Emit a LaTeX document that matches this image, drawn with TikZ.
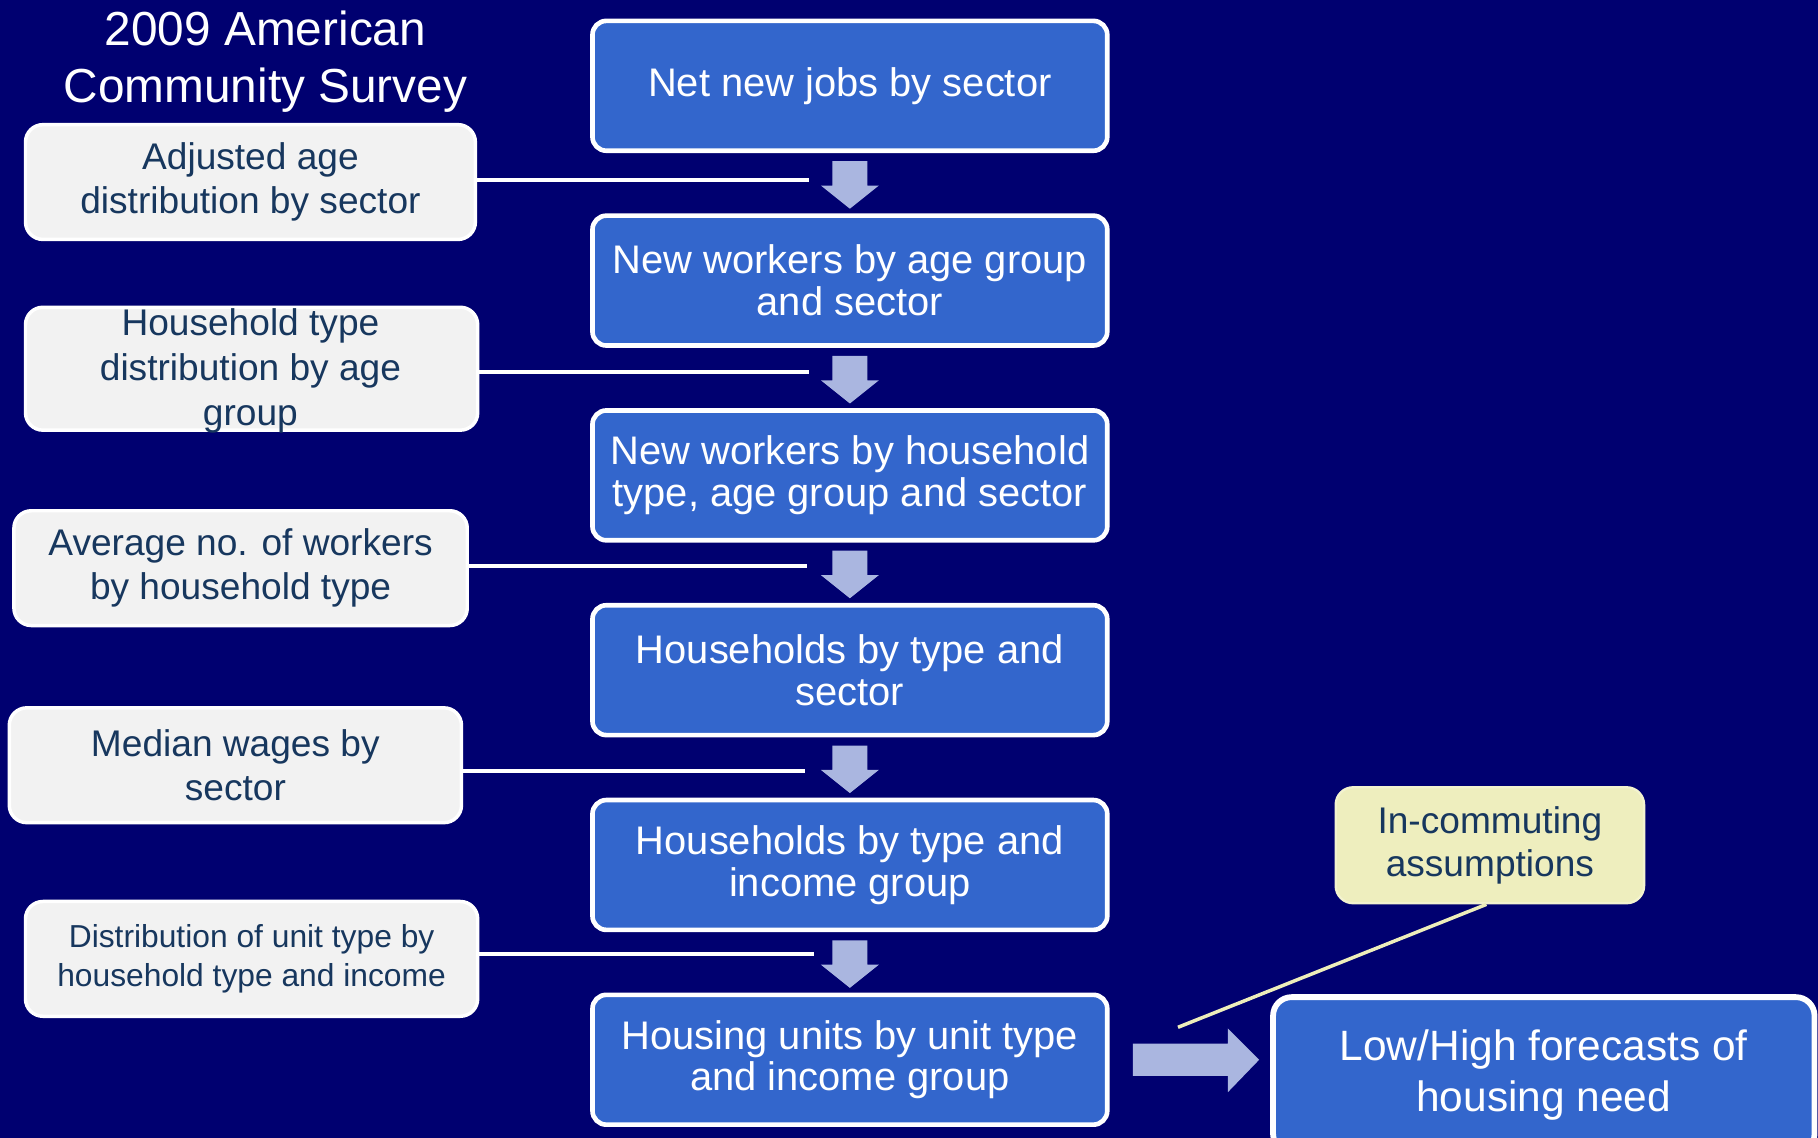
\documentclass[tikz,border=0pt]{standalone}
\usepackage{fontspec}
\setmainfont{Liberation Sans}
\definecolor{bgnavy}{RGB}{0,0,112}
\definecolor{boxblue}{RGB}{51,102,204}
\definecolor{greyfill}{RGB}{242,242,242}
\definecolor{greytext}{RGB}{23,55,94}
\definecolor{arrowcol}{RGB}{170,182,224}
\definecolor{yellowfill}{RGB}{238,238,190}
\definecolor{calloutcol}{RGB}{238,238,187}
\begin{document}
\begin{tikzpicture}[x=0.5pt,y=-0.5pt,
  bluebox/.style={draw=white, line width=2pt, fill=boxblue, rounded corners=6pt,
    minimum width=222pt, minimum height=56pt, text=white, align=center,
    font=\fontsize{17.2}{18}\selectfont, inner sep=0pt},
  greybox/.style={draw=white, line width=1.5pt, fill=greyfill, rounded corners=7.5pt,
    minimum height=49.5pt, text=greytext, align=center,
    font=\fontsize{16}{19}\selectfont, inner sep=0pt},
  greytxt/.style={text=greytext, align=center, font=\fontsize{16}{19.25}\selectfont, inner sep=0pt},
  yellowbox/.style={draw=calloutcol!70!white, line width=1pt, fill=yellowfill, rounded corners=7.5pt,
    minimum width=133pt, minimum height=50pt, text=greytext, align=center,
    font=\fontsize{16}{18.5}\selectfont, inner sep=0pt},
  finalbox/.style={draw=white, line width=2.5pt, fill=boxblue, rounded corners=8pt,
    minimum width=233.5pt, minimum height=67pt, text=white, align=center,
    font=\fontsize{18.3}{22}\selectfont, inner sep=0pt},
  titletxt/.style={text=white, align=center, font=\fontsize{20.6}{24.5}\selectfont, inner sep=0pt},
  feed/.style={draw=white, line width=1.6pt},
  callout/.style={draw=calloutcol, line width=1.5pt},
  downarr/.pic={\fill[arrowcol] (-15,0) -- (15,0) -- (15,21) -- (25,21) -- (0,41) -- (-25,21) -- (-15,21) -- cycle;},
  rightarr/.pic={\fill[arrowcol] (0,-14) -- (82,-14) -- (82,-27) -- (109,0) -- (82,28) -- (82,14) -- (0,14) -- cycle;}
]
\useasboundingbox (0,0) rectangle (1568,981);
\fill[bgnavy] (-10,-10) rectangle (1578,991);

% title
\node[titletxt] (title) at (229,53) {2009 American\\Community Survey};

% main column
\node[bluebox] (b1) at (733,74) {Net new jobs by sector};
\node[bluebox] (b2) at (733,242) {New workers by age group\\and sector};
\node[bluebox] (b3) at (733,410) {New workers by household\\type, age group and sector};
\node[bluebox] (b4) at (733,578) {Households by type and\\sector};
\node[bluebox] (b5) at (733,746) {Households by type and\\income group};
\node[bluebox] (b6) at (733,914) {Housing units by unit type\\and income group};

% down arrows
\pic at ([yshift=-3.5pt]b1.south) {downarr};
\pic at ([yshift=-3.5pt]b2.south) {downarr};
\pic at ([yshift=-3.5pt]b3.south) {downarr};
\pic at ([yshift=-3.5pt]b4.south) {downarr};
\pic at ([yshift=-3.5pt]b5.south) {downarr};

% side inputs
\node[greybox, minimum width=194pt] (g1) at (216,157) {Adjusted age\\distribution by sector};
\node[greybox, minimum width=195pt, minimum height=53pt] (g2) at (217,318) {};
\node[greytxt] (g2t) at (216,320) {Household type\\distribution by age\\group};
\node[greybox, minimum width=195.5pt] (g3) at (207.5,490) {Average no. of workers\\by household type};
\node[greybox, minimum width=195pt] (g4) at (203,660) {Median wages by\\sector};
\node[greybox, minimum width=195pt, font=\fontsize{13.7}{17}\selectfont] (g5) at (217,827) {Distribution of unit type by\\household type and income};

% feed lines
\coordinate (c1) at (698,155);
\coordinate (c2) at (698,321);
\coordinate (c3) at (696,488);
\coordinate (c4) at (694,665);
\coordinate (c5) at (702,823);
\draw[feed] (g1.east |- c1) -- (c1);
\draw[feed] (g2.east |- c2) -- (c2);
\draw[feed] (g3.east |- c3) -- (c3);
\draw[feed] (g4.east |- c4) -- (c4);
\draw[feed] (g5.east |- c5) -- (c5);

% final output
\node[finalbox] (fin) at (1331.5,927) {Low/High forecasts of\\housing need};
\pic at ([xshift=10pt]b6.east) {rightarr};

% in-commuting
\node[yellowbox] (yb) at (1285,729) {In-commuting\\assumptions};
\coordinate (cal) at (1016,886);
\draw[callout] ([xshift=-1.5pt]yb.south) -- (cal);
\end{tikzpicture}
\end{document}
